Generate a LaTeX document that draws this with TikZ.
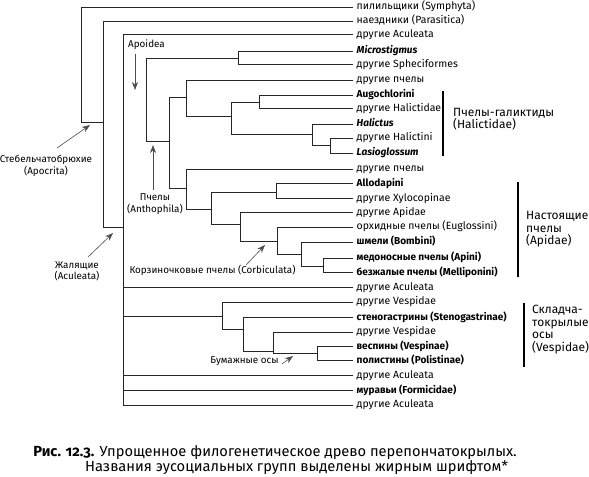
\documentclass[tikz,border=0pt]{standalone}
\usepackage{fontspec}
\setmainfont{Fira Sans}
\usetikzlibrary{arrows.meta}
\begin{document}
\begin{tikzpicture}[x=1bp,y=-1bp,
  lf/.style={anchor=west, inner xsep=3.5bp, inner ysep=0pt, font=\fontsize{10.5}{11}\selectfont, text height=6.8bp, text depth=1.7bp},
  lfb/.style={lf, font=\fontsize{10.1}{11}\selectfont\bfseries},
  lfbi/.style={lf, font=\fontsize{10.1}{11}\selectfont\bfseries\itshape},
  br/.style={line width=0.8bp, black!85},
  grp/.style={anchor=west, align=left, font=\fontsize{12}{12.5}\selectfont, inner sep=0pt},
  gbar/.style={line width=2bp},
  ann/.style={align=center, font=\fontsize{9.9}{11.5}\selectfont, inner sep=0pt},
  pt/.style={-{Stealth[length=8bp,width=6bp]}, line width=0.6bp, black!70},
]
\useasboundingbox (0,0) rectangle (589,477);
% leaves
\node[lf]   (l1)  at (353,7)     {пилильщики (Symphyta)};
\node[lf]   (l2)  at (353,21)    {наездники (Parasitica)};
\node[lf]   (l3)  at (353,34.5)  {другие Aculeata};
\node[lfbi] (l4)  at (353,51)    {Microstigmus};
\node[lf]   (l5)  at (353,64.5)  {другие Spheciformes};
\node[lf]   (l6)  at (353,80)    {другие пчелы};
\node[lfb]  (l7)  at (353,95)    {Augochlorini};
\node[lf]   (l8)  at (353,108.5) {другие Halictidae};
\node[lfbi] (l9)  at (353,124)   {Halictus};
\node[lf]   (l10) at (353,138)   {другие Halictini};
\node[lfbi] (l11) at (353,153)   {Lasioglossum};
\node[lf]   (l12) at (353,169)   {другие пчелы};
\node[lfb]  (l13) at (353,183.5) {Allodapini};
\node[lf]   (l14) at (353,198.5) {другие Xylocopinae};
\node[lf]   (l15) at (353,212.5) {другие Apidae};
\node[lf]   (l16) at (353,227)   {орхидные пчелы (Euglossini)};
\node[lfb]  (l17) at (353,242)   {шмели (Bombini)};
\node[lfb]  (l18) at (353,258)   {медоносные пчелы (Apini)};
\node[lfb]  (l19) at (353,272.5) {безжалые пчелы (Melliponini)};
\node[lf]   (l20) at (353,287.5) {другие Aculeata};
\node[lf]   (l21) at (353,302)   {другие Vespidae};
\node[lfb]  (l22) at (353,317.5) {стеногастрины (Stenogastrinae)};
\node[lf]   (l23) at (353,332)   {другие Vespidae};
\node[lfb]  (l24) at (353,346.5) {веспины (Vespinae)};
\node[lfb]  (l25) at (353,360.5) {полистины (Polistinae)};
\node[lf]   (l26) at (353,375.5) {другие Aculeata};
\node[lfb]  (l27) at (353,390.5) {муравьи (Formicidae)};
\node[lf]   (l28) at (353,405)   {другие Aculeata};
% internal nodes
\coordinate (root) at (81,7);
\coordinate (apoc) at (103,122);
\coordinate (acul) at (123,227);
\coordinate (apoid) at (146,58);
\coordinate (mic) at (238,58);
\coordinate (anth) at (169,141);
\coordinate (b1) at (186,97);
\coordinate (hal) at (231,116);
\coordinate (aug) at (259,102);
\coordinate (hti) at (312,134.5);
\coordinate (las) at (330,145);
\coordinate (b2) at (186,188);
\coordinate (x1) at (211,209);
\coordinate (xyl) at (276,192);
\coordinate (ap1) at (240,224);
\coordinate (corb) at (277,241);
\coordinate (cb1) at (301,254);
\coordinate (cb2) at (323,266);
\coordinate (vesp) at (222,316);
\coordinate (v1) at (243,329);
\coordinate (v2) at (273,351.5);
\coordinate (v3) at (317,353);
% branches
\draw[br] (root) |- (l1.west);
\draw[br] (root) |- (apoc);
\draw[br] (apoc) |- (l2.west);
\draw[br] (apoc) |- (acul);
\foreach \c in {l3,l20,vesp,l26,l27,l28} \draw[br] (acul) |- (\c);
\draw[br] (apoid) |- (mic);
\draw[br] (apoid) |- (anth);
\draw[br] (mic) |- (l4.west);
\draw[br] (mic) |- (l5.west);
\draw[br] (anth) |- (b1);
\draw[br] (anth) |- (b2);
\draw[br] (b1) |- (l6.west);
\draw[br] (b1) |- (hal);
\draw[br] (hal) |- (aug);
\draw[br] (hal) |- (hti);
\draw[br] (aug) |- (l7.west);
\draw[br] (aug) |- (l8.west);
\draw[br] (hti) |- (l9.west);
\draw[br] (hti) |- (las);
\draw[br] (las) |- (l10.west);
\draw[br] (las) |- (l11.west);
\draw[br] (b2) |- (l12.west);
\draw[br] (b2) |- (x1);
\draw[br] (x1) |- (xyl);
\draw[br] (x1) |- (ap1);
\draw[br] (xyl) |- (l13.west);
\draw[br] (xyl) |- (l14.west);
\draw[br] (ap1) |- (l15.west);
\draw[br] (ap1) |- (corb);
\draw[br] (corb) |- (l16.west);
\draw[br] (corb) |- (cb1);
\draw[br] (cb1) |- (l17.west);
\draw[br] (cb1) |- (cb2);
\draw[br] (cb2) |- (l18.west);
\draw[br] (cb2) |- (l19.west);
\draw[br] (vesp) |- (l21.west);
\draw[br] (vesp) |- (v1);
\draw[br] (v1) |- (l22.west);
\draw[br] (v1) |- (v2);
\draw[br] (v2) |- (l23.west);
\draw[br] (v2) |- (v3);
\draw[br] (v3) |- (l24.west);
\draw[br] (v3) |- (l25.west);
% annotations
\node[ann] (tApoc) at (46,166) {Стебельчатобрюхие\\(Apocrita)};
\coordinate (aApoc1) at (57,148); \coordinate (aApoc2) at (90,125);
\draw[pt] (aApoc1) -- (aApoc2);
\node[ann] (tAcul) at (77,271.5) {Жалящие\\(Aculeata)};
\coordinate (aAcul1) at (88,257); \coordinate (aAcul2) at (113,233);
\draw[pt] (aAcul1) -- (aAcul2);
\node[ann] (tApoid) at (146.5,45) {Apoidea};
\coordinate (aApoid1) at (135,54); \coordinate (aApoid2) at (135,90);
\draw[pt] (aApoid1) -- (aApoid2);
\node[ann] (tAnth) at (155,204) {Пчелы\\(Anthophila)};
\coordinate (aAnth1) at (153,190); \coordinate (aAnth2) at (153,145);
\draw[pt] (aAnth1) -- (aAnth2);
\node[ann] (tCorb) at (212.5,270) {Корзиночковые пчелы (Corbiculata)};
\coordinate (aCorb1) at (246,265); \coordinate (aCorb2) at (265,245);
\draw[pt] (aCorb1) -- (aCorb2);
\node[ann] (tPap) at (244.5,361) {Бумажные осы};
\coordinate (aPap1) at (282,364); \coordinate (aPap2) at (293,356);
\draw[pt] (aPap1) -- (aPap2);
% groups
\coordinate (g1a) at (443,91); \coordinate (g1b) at (443,156);
\draw[gbar] (g1a) -- (g1b);
\node[grp] (gHal) at (453,119.5) {Пчелы-галиктиды\\(Halictidae)};
\coordinate (g2a) at (518,182); \coordinate (g2b) at (518,277);
\draw[gbar] (g2a) -- (g2b);
\node[grp] (gApi) at (526,229.5) {Настоящие\\пчелы\\(Apidae)};
\coordinate (g3a) at (524,303); \coordinate (g3b) at (524,367);
\draw[gbar] (g3a) -- (g3b);
\node[grp] (gVes) at (532,329.5) {Складча-\\токрылые\\осы\\(Vespidae)};
% caption
\node[inner sep=0pt, font=\fontsize{14.7}{16}\selectfont] (cap1) at (275,453)
  {\textbf{Рис. {\addfontfeature{Numbers=OldStyle}12.3}.} Упрощенное филогенетическое древо перепончатокрылых.};
\node[inner sep=0pt, font=\fontsize{14.7}{16}\selectfont] (cap2) at (296.5,467.5)
  {Названия эусоциальных групп выделены жирным шрифтом*};
\end{tikzpicture}
\end{document}
